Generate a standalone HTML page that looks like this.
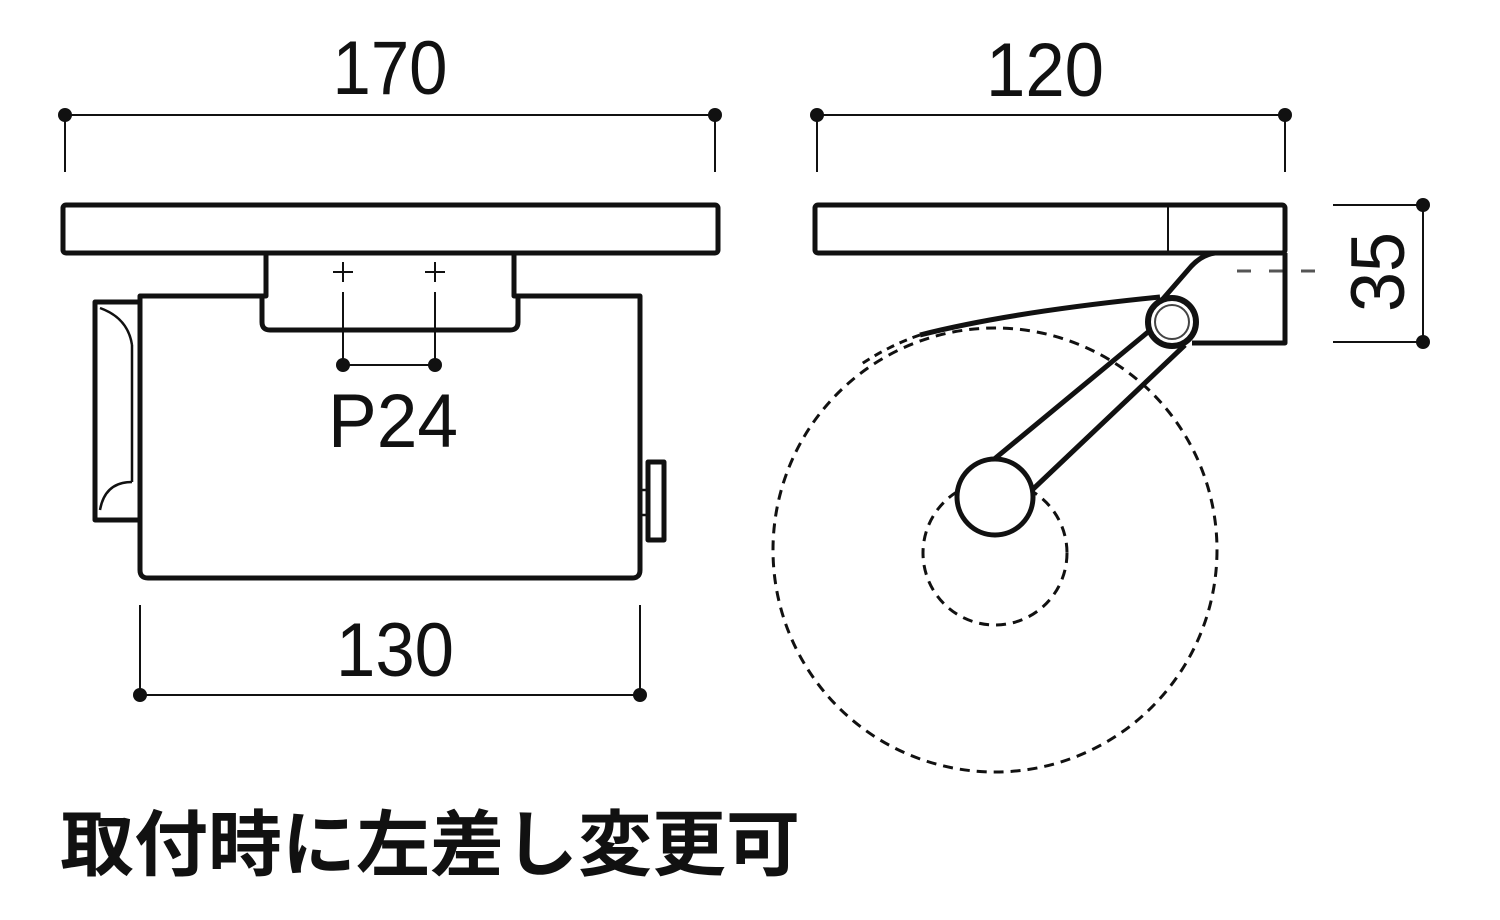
<!DOCTYPE html>
<html><head><meta charset="utf-8"><style>
html,body{margin:0;padding:0;background:#fff;}
svg{display:block;}
</style></head><body>
<svg width="1500" height="920" viewBox="0 0 1500 920" xmlns="http://www.w3.org/2000/svg">
<g fill="none" stroke="#111" stroke-linejoin="round">
<g stroke-width="2">
<line x1="65" y1="115" x2="715" y2="115"/>
<line x1="65" y1="115" x2="65" y2="172"/>
<line x1="715" y1="115" x2="715" y2="172"/>
<line x1="140" y1="605" x2="140" y2="695"/>
<line x1="640" y1="605" x2="640" y2="695"/>
<line x1="140" y1="695" x2="640" y2="695"/>
<line x1="343" y1="262" x2="343" y2="282"/><line x1="333" y1="272" x2="353" y2="272"/>
<line x1="435" y1="262" x2="435" y2="282"/><line x1="425" y1="272" x2="445" y2="272"/>
<line x1="343" y1="292" x2="343" y2="365"/>
<line x1="435" y1="292" x2="435" y2="365"/>
<line x1="343" y1="365" x2="435" y2="365"/>
</g>
<g stroke-width="5">
<rect x="63" y="205" width="655" height="48" rx="3"/>
<path d="M266 253 V296 H262 V322 Q262 330 270 330 H510 Q518 330 518 322 V296 H514 V253"/>
<path d="M262 296 H140 V570 Q140 578 148 578 H632 Q640 578 640 570 V296 H518"/>
<path d="M140 302 H95 V520 H140"/>
<path d="M648 462 H664 V540 H648 Z"/>
</g>
<g stroke-width="2.5">
<path d="M100 308 Q128 318 132 345"/>
<path d="M100 510 Q105 482 132 482"/>
<line x1="132" y1="345" x2="132" y2="482"/>
<line x1="642" y1="490" x2="648" y2="490"/>
<line x1="642" y1="515" x2="648" y2="515"/>
</g>
<g stroke-width="2">
<line x1="817" y1="115" x2="1285" y2="115"/>
<line x1="817" y1="115" x2="817" y2="172"/>
<line x1="1285" y1="115" x2="1285" y2="172"/>
<line x1="1333" y1="205" x2="1423" y2="205"/>
<line x1="1333" y1="342" x2="1423" y2="342"/>
<line x1="1423" y1="205" x2="1423" y2="342"/>
<line x1="1168" y1="205" x2="1168" y2="253"/>
</g>
<line x1="1237" y1="271" x2="1320" y2="271" stroke="#555" stroke-width="3" stroke-dasharray="14 18"/>
<g stroke-width="3" stroke-dasharray="10 7">
<circle cx="995" cy="550" r="222"/>
<circle cx="995" cy="553" r="72"/>
</g>
<g stroke-width="5">
<rect x="815" y="205" width="470" height="48" rx="3"/>
<path d="M1285 253 V343 H1192"/>
<path d="M1215 253 Q1200 255 1188 270 L1155 308"/>
<path d="M1148 332 L975 475"/>
<path d="M1185 345 L1030 492"/>
<path d="M1160 297 Q1010 312 920 335"/>
</g>
<path d="M920 335 Q890 345 860 365" stroke-width="3" stroke-dasharray="8 6"/>
</g>
<circle cx="1172" cy="322" r="24" fill="#fff" stroke="#111" stroke-width="6"/>
<circle cx="1172" cy="322" r="17" fill="none" stroke="#444" stroke-width="2"/>
<circle cx="995" cy="497" r="38" fill="#fff" stroke="#111" stroke-width="5"/>
<g fill="#111">
<circle cx="65" cy="115" r="7"/><circle cx="715" cy="115" r="7"/>
<circle cx="140" cy="695" r="7"/><circle cx="640" cy="695" r="7"/>
<circle cx="343" cy="365" r="7"/><circle cx="435" cy="365" r="7"/>
<circle cx="817" cy="115" r="7"/><circle cx="1285" cy="115" r="7"/>
<circle cx="1423" cy="205" r="7"/><circle cx="1423" cy="342" r="7"/>
</g>
<g font-family="Liberation Sans, sans-serif" font-size="76" fill="#111" text-anchor="middle">
<text x="390" y="94" textLength="115" lengthAdjust="spacingAndGlyphs">170</text>
<text x="1045" y="96" textLength="118" lengthAdjust="spacingAndGlyphs">120</text>
<text x="395" y="676" textLength="118" lengthAdjust="spacingAndGlyphs">130</text>
<text x="393" y="447" textLength="130" lengthAdjust="spacingAndGlyphs">P24</text>
<text transform="translate(1404 272) rotate(-90)" x="0" y="0" textLength="80" lengthAdjust="spacingAndGlyphs">35</text>
</g>
<text x="60" y="870" font-family="Liberation Sans, 'Noto Sans CJK JP', sans-serif" font-weight="bold" font-size="72" fill="#111" textLength="740" lengthAdjust="spacingAndGlyphs">取付時に左差し変更可</text>
</svg>
</body></html>
